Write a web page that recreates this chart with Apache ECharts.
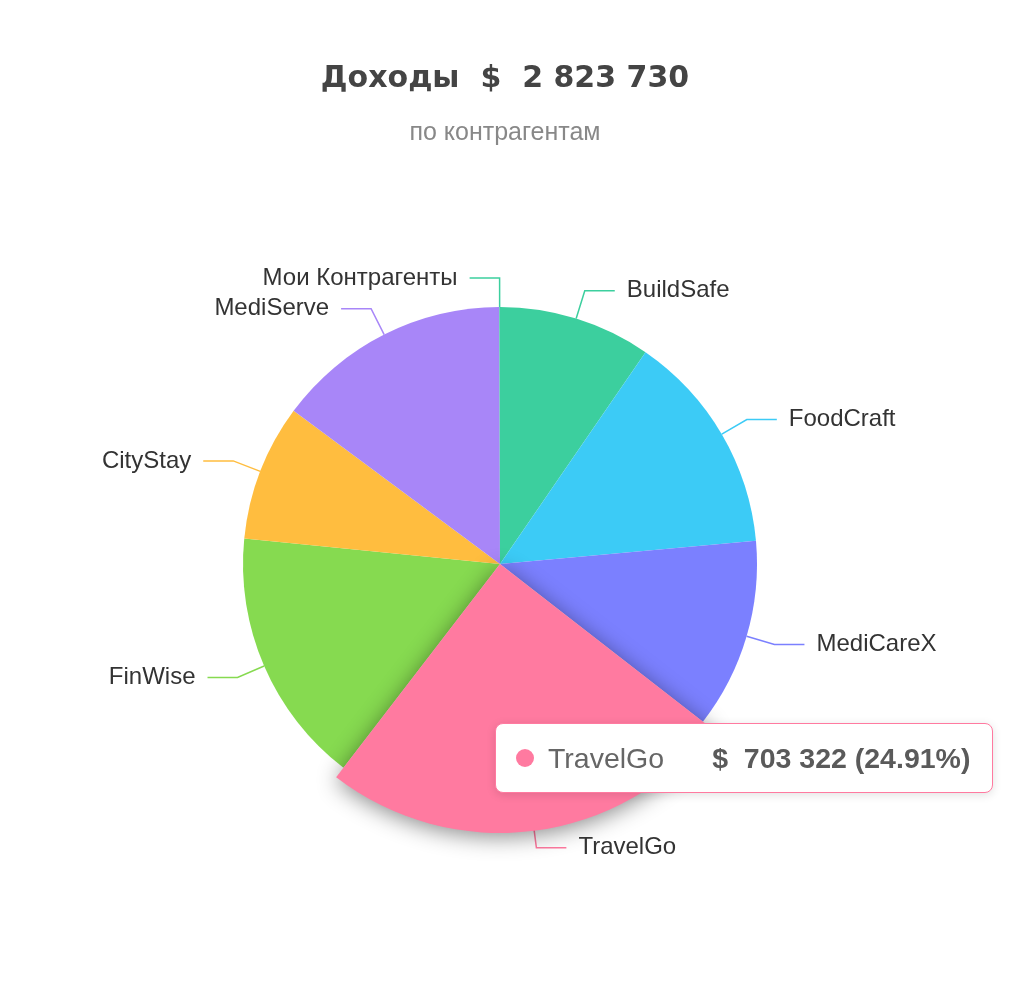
<!DOCTYPE html>
<html>
<head>
<meta charset="utf-8">
<style>
  html, body { margin: 0; padding: 0; background: #ffffff; }
  #chart { width: 1024px; height: 983px; }
</style>
<script src="https://cdn.jsdelivr.net/npm/echarts@6/dist/echarts.min.js"></script>
</head>
<body>
<div id="chart"></div>
<script>
const names = ['BuildSafe', 'FoodCraft', 'MediCareX', 'TravelGo', 'FinWise', 'CityStay', 'MediServe', 'Мои Контрагенты'];
const values = [270480, 394860, 337540, 703322, 456210, 242310, 417758, 1250];
const colors = ['#3ccf9e', '#3ccbf6', '#7b80ff', '#ff7aa0', '#86da50', '#ffbd3f', '#a886f8'];
const titleLabel = 'Доходы';
const subtitleLabel = 'по контрагентам';
const currency = '$';
const highlightedIndex = 3;

function fmt(n) {
  return String(Math.round(n)).replace(/\B(?=(\d{3})+(?!\d))/g, ' ');
}
const total = values.reduce((a, b) => a + b, 0);
const FONT = 'Liberation Sans, Arial, Helvetica, sans-serif';
const TITLE_FONT = 'DejaVu Sans, Liberation Sans, Arial, sans-serif';

const chart = echarts.init(document.getElementById('chart'));
chart.setOption({
  animation: false,
  color: colors,
  title: {
    text: titleLabel + '  ' + currency + '  ' + fmt(total),
    subtext: subtitleLabel,
    left: 500,
    textAlign: 'center',
    top: 59,
    itemGap: 27,
    textStyle: { fontFamily: TITLE_FONT, fontSize: 30, fontWeight: 'bold', color: '#444444' },
    subtextStyle: { fontFamily: FONT, fontSize: 25, color: '#888888' }
  },
  tooltip: {
    trigger: 'item',
    triggerOn: 'none',
    alwaysShowContent: true,
    position: [495, 723],
    backgroundColor: '#ffffff',
    borderColor: '#ff7aa0',
    borderWidth: 1.5,
    padding: [16, 22, 16, 20],
    extraCssText: 'border-radius:8px;box-shadow:0 2px 10px rgba(0,0,0,0.12);',
    formatter: function (p) {
      return '<div style="display:flex;align-items:center;font-family:Liberation Sans, Arial, sans-serif;font-size:28.5px;line-height:36px;color:#666;">' +
        '<span style="display:inline-block;width:18px;height:18px;border-radius:9px;background:' + p.color + ';margin-right:14px;"></span>' +
        '<span style="margin-right:48px;">' + p.name + '</span>' +
        '<span style="font-weight:bold;color:#5a5a5a;">' + currency + '&nbsp; ' + fmt(p.value) + ' (' + p.percent.toFixed(2) + '%)</span>' +
        '</div>';
    }
  },
  series: [{
    type: 'pie',
    center: [500, 564],
    radius: [0, 257],
    startAngle: 90,
    clockwise: true,
    avoidLabelOverlap: true,
    data: names.map((n, i) => ({
      name: n,
      value: values[i],
      emphasis: { itemStyle: { color: colors[i % colors.length] } }
    })),
    label: {
      show: true,
      fontFamily: FONT,
      fontSize: 24,
      color: '#333333',
      distanceToLabelLine: 12
    },
    labelLine: {
      show: true,
      length: 29,
      length2: 30,
      lineStyle: { width: 1.5 }
    },
    emphasis: {
      scale: true,
      scaleSize: 12,
      itemStyle: {
        shadowBlur: 22,
        shadowOffsetY: 4,
        shadowColor: 'rgba(0,0,0,0.45)'
      },
      label: { fontSize: 24, fontWeight: 'normal' }
    }
  }]
});

chart.dispatchAction({ type: 'highlight', seriesIndex: 0, dataIndex: highlightedIndex });
chart.dispatchAction({ type: 'showTip', seriesIndex: 0, dataIndex: highlightedIndex });
</script>
</body>
</html>
